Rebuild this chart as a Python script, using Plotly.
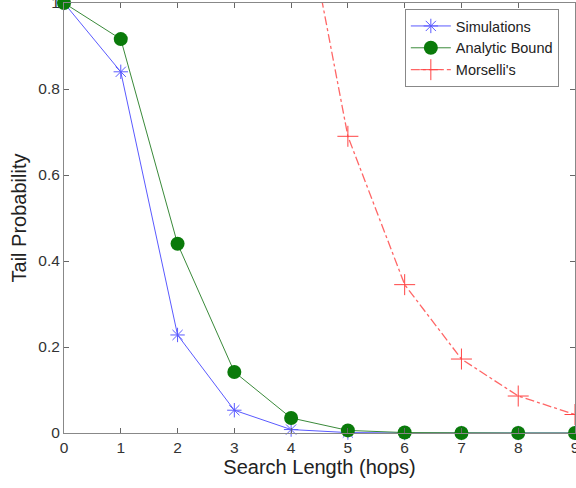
import plotly.graph_objects as go

hops = [0, 1, 2, 3, 4, 5, 6, 7, 8, 9]
simulations = [1.0, 0.84, 0.228, 0.053, 0.008, 0.001, 0.0, 0.0, 0.0, 0.0]
analytic = [1.0, 0.916, 0.44, 0.142, 0.035, 0.006, 0.001, 0.0, 0.0, 0.0]
mors_hops = [4, 5, 6, 7, 8, 9]
morselli = [1.38, 0.69, 0.345, 0.172, 0.086, 0.043]
xticks = [0, 1, 2, 3, 4, 5, 6, 7, 8, 9]
yticks = [0, 0.2, 0.4, 0.6, 0.8, 1]
ytick_text = ["0", "0.2", "0.4", "0.6", "0.8", "1"]

FONT = "Liberation Sans, Arial"

fig = go.Figure()
fig.add_trace(go.Scatter(
    x=hops, y=simulations, name="Simulations", mode="lines+markers",
    line=dict(color="#5a5aff", width=1),
    marker=dict(symbol="asterisk-open", size=12, color="#5a5aff", line=dict(width=1, color="#5a5aff")),
    cliponaxis=False))
fig.add_trace(go.Scatter(
    x=hops, y=analytic, name="Analytic Bound", mode="lines+markers",
    line=dict(color="#3a8a3a", width=1),
    marker=dict(symbol="circle", size=14, color="#0a7a0a"),
    cliponaxis=False))
fig.add_trace(go.Scatter(
    x=mors_hops, y=morselli, name="Morselli's", mode="lines+markers",
    line=dict(color="#ff6666", width=1.3, dash="dashdot"),
    marker=dict(symbol="cross-thin-open", size=15, color="#ff4444", line=dict(width=1, color="#ff4444")),
    cliponaxis=True))

axis_common = dict(
    showline=True, linecolor="#888888", linewidth=1, mirror="ticks",
    ticks="inside", ticklen=5, tickcolor="#666666", showgrid=False, zeroline=False,
    automargin=False, ticklabeloverflow="allow",
    tickfont=dict(family=FONT, size=15.5, color="#333333"),
)
fig.update_xaxes(range=[0, 9], tickvals=xticks, ticktext=[str(v) for v in xticks],
                 title=dict(text="Search Length (hops)", font=dict(family=FONT, size=20, color="#222222"), standoff=4),
                 **axis_common)
fig.update_yaxes(range=[0, 1], tickvals=yticks, ticktext=ytick_text,
                 title=dict(text="Tail Probability", font=dict(family=FONT, size=20, color="#222222"), standoff=6),
                 **axis_common)

fig.update_layout(
    width=576, height=488,
    margin=dict(l=64, r=1, t=3, b=55),
    plot_bgcolor="white", paper_bgcolor="white",
    showlegend=True,
    legend=dict(x=0.667, y=0.986, xanchor="left", yanchor="top",
                bordercolor="#888888", borderwidth=1, bgcolor="white",
                font=dict(family=FONT, size=14.5, color="#222222"),
                itemwidth=40, tracegroupgap=0),
)
fig.write_html("out.html", config={"displayModeBar": False},
               post_script="document.body.style.margin='0';document.body.style.overflow='hidden';")
